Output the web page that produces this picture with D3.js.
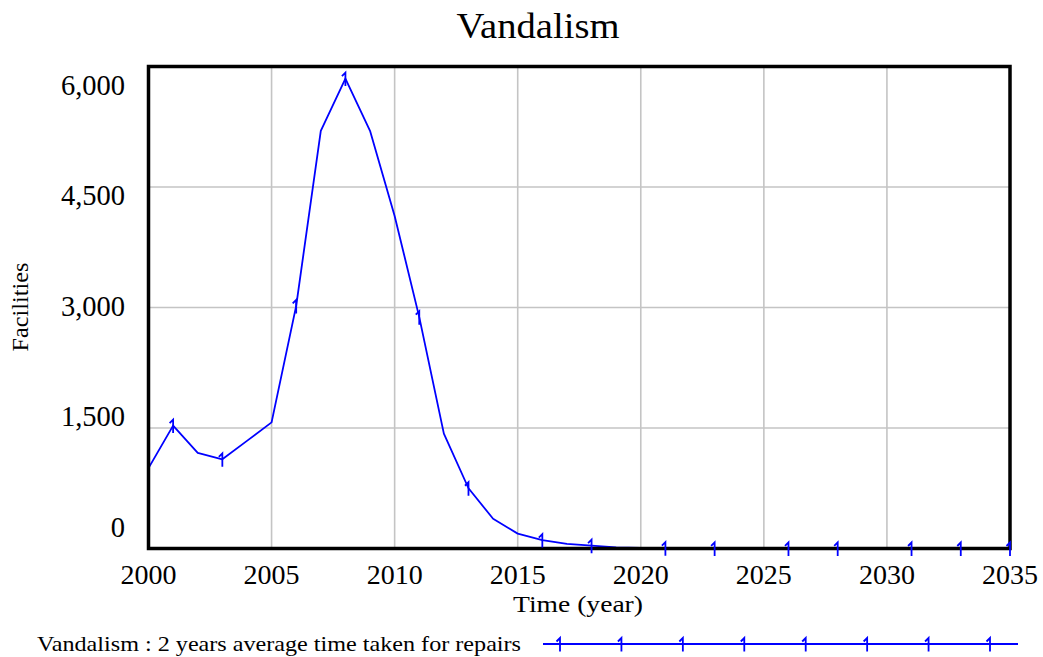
<!DOCTYPE html>
<html>
<head>
<meta charset="utf-8">
<script src="https://cdn.jsdelivr.net/npm/d3@7"></script>
<style>
  html, body { margin: 0; padding: 0; background: #fff; }
  svg { display: block; }
  text { font-family: "Liberation Serif", "Times New Roman", serif; fill: #000; }
</style>
</head>
<body>
<svg id="chart" width="1043" height="657"></svg>
<script>
// Simulation output: facilities vandalised per year
const years = [2000, 2001, 2002, 2003, 2004, 2005, 2006, 2007, 2008, 2009,
               2010, 2011, 2012, 2013, 2014, 2015, 2016, 2017, 2018, 2019,
               2020, 2021, 2022, 2023, 2024, 2025, 2026, 2027, 2028, 2029,
               2030, 2031, 2032, 2033, 2034, 2035];
const vandalism = [1000, 1530, 1190, 1110, 1340, 1570, 3020, 5200, 5850, 5200,
                   4140, 2880, 1430, 750, 370, 185, 105, 58, 35, 14,
                   7, 4, 2, 1, 1, 0.5, 0.5, 0.3, 0.2, 0.1,
                   0.1, 0.1, 0, 0, 0, 0];
// Years at which the series marker "1" is stamped on the line
const markerYears = [2001, 2003, 2006, 2008, 2011, 2013, 2016, 2018, 2021, 2023,
                     2026, 2028, 2031, 2033, 2035];
const xTicks = [2000, 2005, 2010, 2015, 2020, 2025, 2030, 2035];
const yTicks = [0, 1500, 3000, 4500, 6000];
const chartTitle = "Vandalism";
const xTitle = "Time (year)";
const yTitle = "Facilities";
const seriesLabel = "Vandalism : 2 years average time taken for repairs";
const legendMarkerCount = 8;

const svg = d3.select("#chart");
const plot = { left: 148.5, right: 1010, top: 66.5, bottom: 548.5 };

const x = d3.scaleLinear().domain([2000, 2035]).range([plot.left, plot.right]);
const y = d3.scaleLinear().domain([0, 6000]).range([plot.bottom, plot.top]);
// Value labels sit slightly inset from the frame edges
const yLabel = d3.scaleLinear().domain([0, 6000]).range([527, 85]);

const blue = "#0000ff";
const gridColor = "#c4c4c4";

// Grid
const grid = svg.append("g");
grid.selectAll("line.v")
  .data(xTicks.filter(t => t > 2000 && t < 2035))
  .join("line")
  .attr("x1", d => x(d)).attr("x2", d => x(d))
  .attr("y1", plot.top).attr("y2", plot.bottom)
  .attr("stroke", gridColor).attr("stroke-width", 1.6);
grid.selectAll("line.h")
  .data(yTicks.filter(t => t > 0 && t < 6000))
  .join("line")
  .attr("x1", plot.left).attr("x2", plot.right)
  .attr("y1", d => y(d)).attr("y2", d => y(d))
  .attr("stroke", gridColor).attr("stroke-width", 1.6);

// Series line
const line = d3.line().x((d, i) => x(years[i])).y(d => y(d));
svg.append("path")
  .datum(vandalism)
  .attr("d", line)
  .attr("fill", "none")
  .attr("stroke", blue)
  .attr("stroke-width", 1.8)
  .attr("stroke-linejoin", "round");

// "1" marker glyph: a stem with a small flag at the top
function markerPath(cx, cy) {
  return `M${cx},${cy + 7.5}L${cx},${cy - 6}L${cx - 3.5},${cy - 2.5}`;
}
function valueAt(yr) { return vandalism[years.indexOf(yr)]; }

// Frame
svg.append("rect")
  .attr("x", plot.left).attr("y", plot.top)
  .attr("width", plot.right - plot.left)
  .attr("height", plot.bottom - plot.top)
  .attr("fill", "none").attr("stroke", "#000").attr("stroke-width", 3.5);

svg.append("g").selectAll("path")
  .data(markerYears)
  .join("path")
  .attr("d", d => markerPath(x(d), y(valueAt(d))))
  .attr("fill", "none").attr("stroke", blue).attr("stroke-width", 1.8);

// Axis labels
svg.append("g").selectAll("text")
  .data(xTicks)
  .join("text")
  .attr("x", d => x(d)).attr("y", 584)
  .attr("text-anchor", "middle")
  .attr("font-size", 28)
  .text(d => d);

svg.append("g").selectAll("text")
  .data(yTicks)
  .join("text")
  .attr("x", 125).attr("y", d => yLabel(d) + 9.5)
  .attr("text-anchor", "end")
  .attr("font-size", 28.5)
  .text(d => d3.format(",")(d));

svg.append("text")
  .attr("x", 538).attr("y", 38)
  .attr("text-anchor", "middle")
  .attr("font-size", 36)
  .attr("textLength", 163).attr("lengthAdjust", "spacingAndGlyphs")
  .text(chartTitle);

svg.append("text")
  .attr("x", 578).attr("y", 612)
  .attr("text-anchor", "middle")
  .attr("font-size", 23)
  .attr("textLength", 130).attr("lengthAdjust", "spacingAndGlyphs")
  .text(xTitle);

svg.append("text")
  .attr("transform", "translate(28,307) rotate(-90)")
  .attr("text-anchor", "middle")
  .attr("font-size", 23)
  .attr("textLength", 89).attr("lengthAdjust", "spacingAndGlyphs")
  .text(yTitle);

// Legend
const legendY = 644;
const lx = d3.scaleLinear().domain([0, legendMarkerCount - 1]).range([560, 990]);
svg.append("text")
  .attr("x", 37).attr("y", 651)
  .attr("font-size", 21)
  .attr("textLength", 484).attr("lengthAdjust", "spacingAndGlyphs")
  .text(seriesLabel);
svg.append("line")
  .attr("x1", 543).attr("x2", 1018)
  .attr("y1", legendY).attr("y2", legendY)
  .attr("stroke", blue).attr("stroke-width", 1.8);
svg.append("g").selectAll("path")
  .data(d3.range(legendMarkerCount))
  .join("path")
  .attr("d", d => markerPath(lx(d), legendY))
  .attr("fill", "none").attr("stroke", blue).attr("stroke-width", 1.8);
</script>
</body>
</html>
